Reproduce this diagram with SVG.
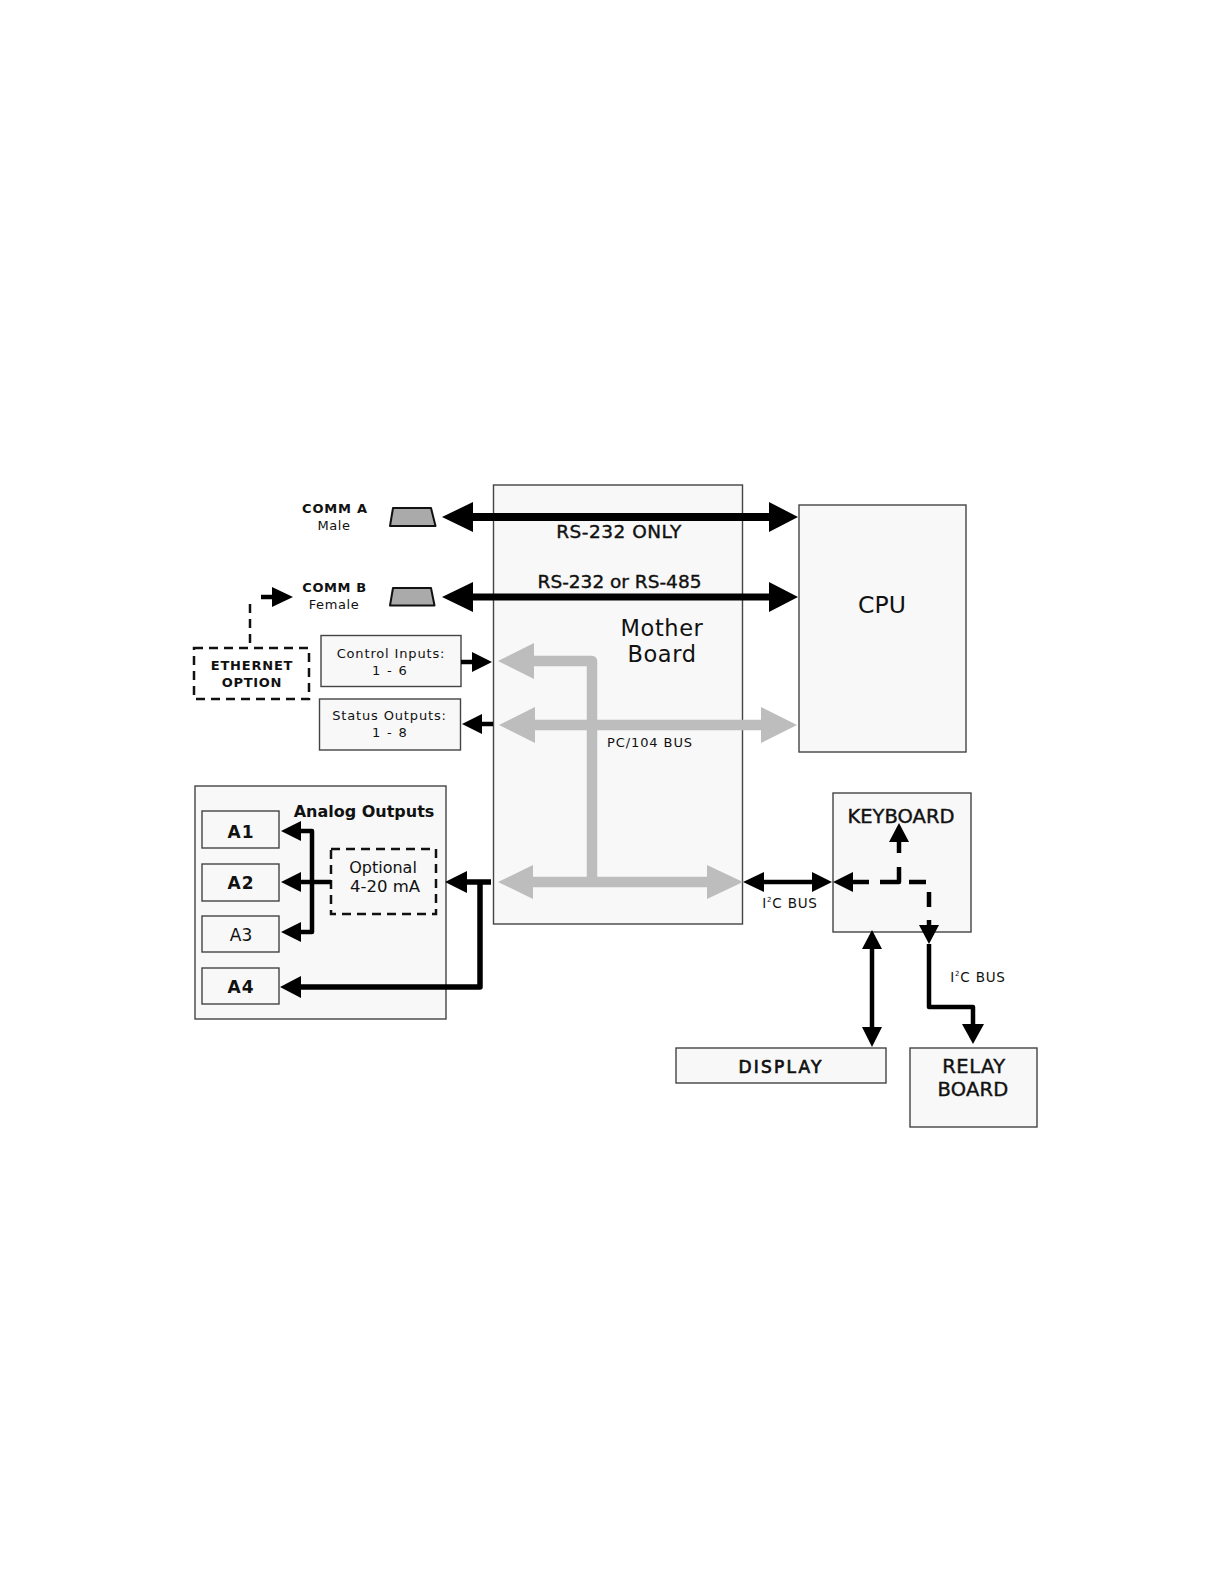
<svg xmlns="http://www.w3.org/2000/svg" width="1224" height="1584" viewBox="0 0 1224 1584">
<style>
text{font-family:"DejaVu Sans",Verdana,sans-serif;fill:#111;text-anchor:middle}
.box{fill:#f8f8f8;stroke:#444;stroke-width:1.4}
.dash{fill:none;stroke:#111;stroke-width:2.500;stroke-dasharray:9 6}
.conn{fill:#aaa;stroke:#111;stroke-width:2;stroke-linejoin:round}
.b{font-weight:bold}
.s{stroke:#111;stroke-width:.4}
.k{fill:none;stroke:#000;stroke-width:4.500;stroke-linejoin:round}
.h{fill:#000}
.g{fill:none;stroke:#bdbdbd;stroke-width:10.5;stroke-linejoin:round}
.gh{fill:#bdbdbd}
</style>
<rect width="1224" height="1584" fill="#fff"/>
<g id="mother-board"><rect class="box" x="493.5" y="485" width="249" height="439"/><text x="662" y="636" font-size="22.500" letter-spacing=".6">Mother</text><text x="662" y="662" font-size="22.500" letter-spacing=".6">Board</text></g>
<g id="cpu"><rect class="box" x="799" y="505" width="167" height="247"/><text x="882" y="612.500" font-size="23.500">CPU</text></g>
<g id="comm-a"><text class="b" x="335" y="513" font-size="13" letter-spacing=".8">COMM A</text><text x="334" y="530" font-size="13" letter-spacing=".5">Male</text><path class="conn" d="M393 508H431L435.500 526H390Z"/></g>
<g id="comm-b"><text class="b" x="334.500" y="592" font-size="13" letter-spacing=".6">COMM B</text><text x="334" y="609" font-size="13" letter-spacing=".6">Female</text><path class="conn" d="M393 588H431L434.500 605.500H390Z"/></g>
<g id="ethernet"><rect class="dash" x="194" y="648" width="115" height="51"/><text class="b" x="252" y="670" font-size="13" letter-spacing=".8">ETHERNET</text><text class="b" x="252" y="687" font-size="13" letter-spacing=".7">OPTION</text></g>
<g id="control-inputs"><rect class="box" x="321" y="635.500" width="140" height="51"/><text x="391" y="657.500" font-size="13" letter-spacing=".85">Control Inputs:</text><text x="390" y="675" font-size="13" letter-spacing="1.300">1 - 6</text></g>
<g id="status-outputs"><rect class="box" x="319.500" y="699" width="141" height="51"/><text x="389.500" y="719.500" font-size="13" letter-spacing=".85">Status Outputs:</text><text x="390" y="737" font-size="13" letter-spacing="1.300">1 - 8</text></g>
<g id="analog-outputs"><rect class="box" x="195" y="786" width="251" height="233"/><text class="b" x="364" y="817" font-size="16">Analog Outputs</text></g>
<g id="a1"><rect class="box" x="202" y="811" width="77" height="37"/><text class="b" x="241" y="838" font-size="17" letter-spacing="1">A1</text></g>
<g id="a2"><rect class="box" x="202" y="864" width="77" height="37"/><text class="b" x="241" y="889" font-size="17" letter-spacing="1">A2</text></g>
<g id="a3"><rect class="box" x="202" y="916" width="77" height="36"/><text x="241" y="941" font-size="17">A3</text></g>
<g id="a4"><rect class="box" x="202" y="968" width="77" height="36"/><text class="b" x="241" y="993" font-size="17" letter-spacing="1">A4</text></g>
<g id="optional"><rect class="dash" x="331" y="849" width="105" height="65"/><text x="383" y="873" font-size="16">Optional</text><text x="385" y="892" font-size="16.500">4-20 mA</text></g>
<g id="keyboard"><rect class="box" x="833" y="793" width="138" height="139"/><text class="s" x="901" y="823" font-size="19.500">KEYBOARD</text></g>
<g id="display"><rect class="box" x="676" y="1048" width="210" height="35"/><text x="781" y="1073" font-size="17" letter-spacing="2.200" stroke="#111" stroke-width=".7">DISPLAY</text></g>
<g id="relay-board"><rect class="box" x="910" y="1048" width="127" height="79"/><text class="s" x="974" y="1073" font-size="19.500" letter-spacing=".5">RELAY</text><text class="s" x="973" y="1096" font-size="19.500" letter-spacing=".2">BOARD</text></g>
<g id="connectors">
<path class="g" d="M530 661H592V882"/><path class="g" d="M530 725H765M530 882H710"/>
<path class="gh" d="M498 661L534 643V679ZM499 725L535 707V743ZM797 725L761 707V743ZM498 882L533 865V899ZM743 882L707 865V899Z"/>
<path d="M470 517H772" stroke="#000" stroke-width="8"/><path d="M470 597H772" stroke="#000" stroke-width="7"/>
<path class="h" d="M442 517L473 502V532ZM798 517L769 502V532ZM442 597L473 582V612ZM798 597L769 582V612Z"/>
<path class="dash" d="M250 643V598"/><path class="k" d="M261 597H275"/><path class="h" d="M293 597L272 587V607Z"/>
<path class="k" d="M461 662H474"/><path class="h" d="M492 662L472 652V672Z"/>
<path class="k" d="M480 724H493"/><path class="h" d="M462 724L482 714V734Z"/>
<path class="k" d="M298 831H312V932H298M298 882H331"/><path class="h" d="M281 831L301 821V841ZM281 882L301 872V892ZM281 932L301 922V942Z"/>
<path class="k" d="M465 882H491M480 882V987H298" style="stroke-width:5.500"/><path class="h" d="M445 882L467 871V893ZM280 987L301 976V998Z"/>
<path class="k" d="M760 882H816"/><path class="h" d="M743 882L764 872V892ZM832 882L812 872V892Z"/>
<path class="h" d="M833 882L853 872V892ZM899 823L889 842H909ZM929 944L919 925H939Z"/>
<path class="k" d="M850 882H869M880 882H899V867M899 853V840M909 882H926M929 892V907M929 920V926"/>
<path class="k" d="M929 944V1007H973V1026"/><path class="h" d="M973 1044L962 1024H984Z"/>
<path class="k" d="M872 947V1029"/><path class="h" d="M872 930L862 949H882ZM872 1047L862 1027H882Z"/>
</g>
<g id="labels">
<text class="s" x="619" y="538" font-size="18.500" letter-spacing=".5">RS-232 ONLY</text>
<text class="s" x="619.500" y="588" font-size="18.500">RS-232 or RS-485</text>
<text x="650" y="747" font-size="13" letter-spacing=".9">PC/104 BUS</text>
<text x="790" y="908" font-size="13.500" letter-spacing=".8">I<tspan font-size="7" dy="-6">2</tspan><tspan dy="6">C BUS</tspan></text>
<text x="978" y="982" font-size="13.500" letter-spacing=".8">I<tspan font-size="7" dy="-6">2</tspan><tspan dy="6">C BUS</tspan></text>
</g>
</svg>
